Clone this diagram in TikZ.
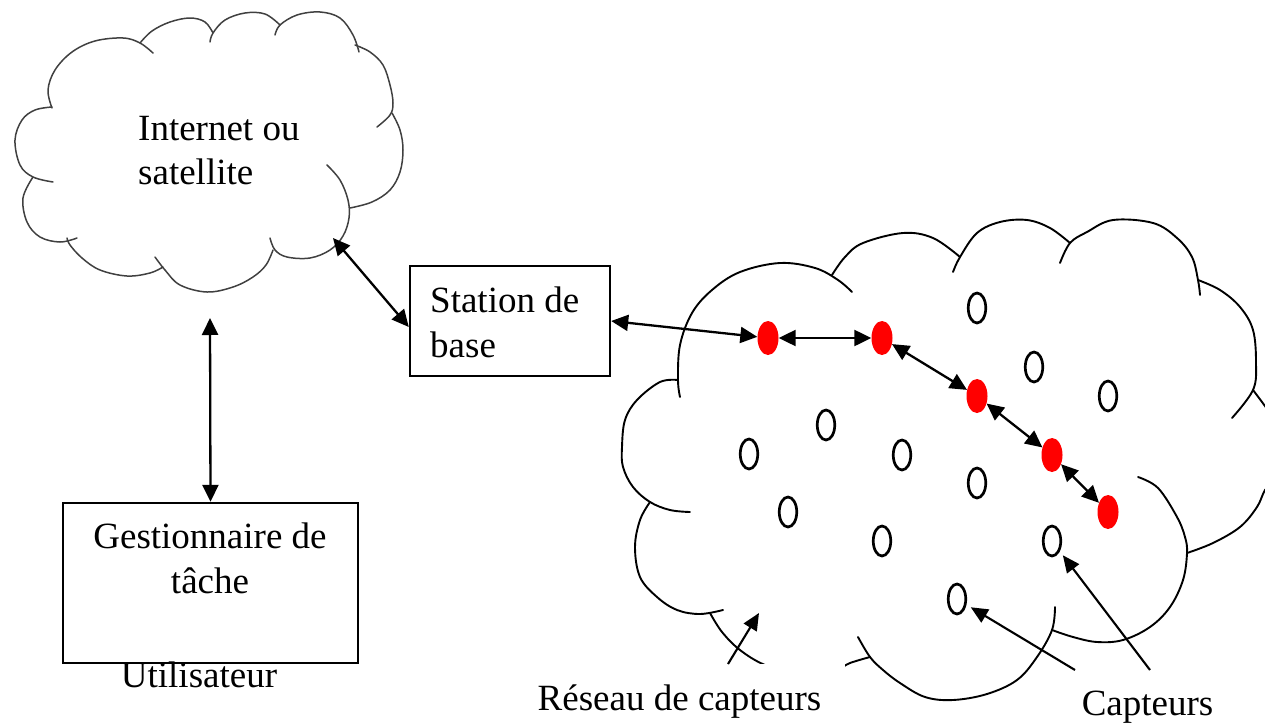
\documentclass[tikz,border=0pt]{standalone}
\usepackage{fontspec}
\setmainfont{Liberation Serif}
\usetikzlibrary{arrows.meta,shapes.geometric,calc}
\begin{document}
\begin{tikzpicture}[x=1pt,y=-1pt,
  txt/.style={font=\fontsize{37}{45}\selectfont, inner sep=0pt},
  boxnode/.style={draw, line width=2.4pt, inner sep=0pt},
  dbl/.style={line width=2.3pt, {Triangle[length=17pt,width=16pt]}-{Triangle[length=17pt,width=16pt]}},
  single/.style={line width=2.1pt, -{Triangle[length=17pt,width=15pt]}},
  redn/.style={ellipse, fill=red, inner sep=0pt, minimum width=21pt, minimum height=34pt},
  sens/.style={ellipse, draw, line width=2.7pt, inner sep=0pt, minimum width=17.5pt, minimum height=30pt},
  lobeL/.style={draw=black!75, line width=1.5pt, line join=round, line cap=round},
  lobeR/.style={draw=black, line width=1.9pt, line join=round, line cap=round},
  curve/.style={smooth, tension=0.6},
  lblbox/.style={txt, fill=white, anchor=base, text height=26pt, text depth=9pt},
]
\useasboundingbox (0,0) rectangle (1265,725);
\clip (0,0) rectangle (1265,725);

% ---- left cloud (Internet ou satellite)
\draw[lobeL] plot[curve] coordinates {(52,108) (48,90) (55,70) (72,52) (95,41) (123,38) (140,43) (153,53)};
\draw[lobeL] plot[curve] coordinates {(140,43) (152,31) (170,22) (190,18) (205,22) (213,33)};
\draw[lobeL] plot[curve] coordinates {(210,42) (213,33) (225,20) (245,13) (265,14) (280,25)};
\draw[lobeL] plot[curve] coordinates {(275,35) (280,25) (297,15) (320,12) (340,18) (353,35) (359,52)};
\draw[lobeL] plot[curve] coordinates {(355,45) (370,52) (383,65) (390,85) (393,103) (390,115) (377,127)};
\draw[lobeL] plot[curve] coordinates {(392,113) (400,130) (403,150) (400,172) (390,190) (372,202) (350,208)};
\draw[lobeL] plot[curve] coordinates {(327,165) (340,180) (348,200) (349,218) (343,236) (330,250) (310,258) (287,257) (275,250) (270,238)};
\draw[lobeL] plot[curve] coordinates {(273,250) (266,265) (253,277) (233,287) (207,292) (180,285) (165,270) (155,257)};
\draw[lobeL] plot[curve] coordinates {(163,267) (150,273) (127,276) (100,270) (82,258) (70,245) (67,238)};
\draw[lobeL] plot[curve] coordinates {(77,238) (60,242) (40,237) (27,222) (23,198) (33,177)};
\draw[lobeL] plot[curve] coordinates {(53,182) (33,177) (20,165) (15,140) (22,120) (35,110) (52,107)};

% ---- right cloud (sensor network)
\draw[lobeR] plot[curve] coordinates {(680,397) (678,380) (680,345) (692,313) (712,290) (740,272) (780,263) (815,268) (838,280) (852,292)};
\draw[lobeR] plot[curve] coordinates {(832,275) (845,257) (863,243) (903,233) (933,238) (960,257)};
\draw[lobeR] plot[curve] coordinates {(953,272) (960,257) (977,233) (1000,222) (1027,220) (1050,228) (1070,243)};
\draw[lobeR] plot[curve] coordinates {(1060,263) (1070,243) (1087,232) (1113,220) (1153,223) (1177,238) (1192,257) (1198,280) (1200,295)};
\draw[lobeR] plot[curve] coordinates {(1198,280) (1220,290) (1240,307) (1253,330) (1256,363) (1253,390) (1232,418)};
\draw[lobeR] plot[curve] coordinates {(1253,390) (1262,402) (1275,420)};
\draw[lobeR] plot[curve] coordinates {(1275,480) (1265,490) (1257,507) (1240,527) (1213,543) (1187,553)};
\draw[lobeR] plot[curve] coordinates {(1138,477) (1158,488) (1177,517) (1185,537) (1187,553) (1183,580) (1170,607) (1150,627) (1123,640) (1097,642) (1073,637) (1052,630)};
\draw[lobeR] plot[curve] coordinates {(1055,607) (1052,630) (1037,657) (1017,680) (987,694) (953,700) (925,697) (900,683) (883,670) (870,657) (858,637)};
\draw[lobeR] plot[curve] coordinates {(710,613) (722,632) (740,650) (765,665) (800,675) (835,670) (850,663) (870,657)};
\draw[lobeR] plot[curve] coordinates {(650,502) (640,520) (635,547) (640,577) (657,597) (677,610) (700,614) (723,610)};
\draw[lobeR] plot[curve] coordinates {(678,380) (660,382) (637,400) (625,420) (622,447) (623,467) (633,487) (650,502) (670,510) (690,512)};

% ---- texts and boxes
\node[txt, anchor=base west] (inet1) at (138,140) {Internet ou};
\node[txt, anchor=base west] (inet2) at (138,184) {satellite};

\node[boxnode, minimum width=200pt, minimum height=110pt] (st) at (510,321) {};
\node[txt, anchor=base west] (st1) at (430,312) {Station de};
\node[txt, anchor=base west] (st2) at (430,357) {base};

\node[boxnode, minimum width=295pt, minimum height=160pt] (gest) at (210.5,583) {};
\node[txt, anchor=base] (g1) at (210,548) {Gestionnaire de};
\node[txt, anchor=base] (g2) at (210,593) {tâche};
\node[txt, anchor=base] (user) at (199,687) {Utilisateur};

% ---- sensors
\node[sens] (s1) at (977,308) {};
\node[sens] (s2) at (1034,367) {};
\node[sens] (s3) at (1108,396) {};
\node[sens] (s4) at (826,425) {};
\node[sens] (s5) at (749,454) {};
\node[sens] (s6) at (902,455) {};
\node[sens] (s7) at (977,483) {};
\node[sens] (s8) at (788,512) {};
\node[sens] (s9) at (882,541) {};
\node[sens] (s10) at (1052,541) {};
\node[sens] (s11) at (957,599) {};

\node[redn] (r1) at (768,338) {};
\node[redn] (r2) at (882,338) {};
\node[redn] (r3) at (977,396) {};
\node[redn] (r4) at (1052,455) {};
\node[redn] (r5) at (1108,512) {};

% ---- connectors
\coordinate (inetpt) at (333,238);
\coordinate (inetbot) at (210,318);
\draw[dbl] (inetpt) -- ([yshift=-6pt]st.west);
\draw[dbl] (inetbot) -- (gest.north);
\draw[dbl] (st.east) -- (r1);
\draw[dbl] (r1) -- (r2);
\draw[dbl] (r2) -- (r3);
\draw[dbl] (r3) -- (r4);
\draw[dbl] (r4) -- (r5);

% ---- labels with pointers
\node[lblbox, inner xsep=24pt, inner ysep=20pt] (lres) at (679.5,710) {Réseau de capteurs};
\node[lblbox, inner xsep=15pt, inner ysep=19pt] (lcap) at (1147.5,715) {Capteurs};
\coordinate (rs) at (728,664);
\coordinate (rtip) at (759,613);
\coordinate (cp1) at (1075,670);
\coordinate (cp2) at (1150,670);
\draw[single] (rs) -- (rtip);
\draw[single, shorten >=5pt] (cp1) -- (s11);
\draw[single, shorten >=5pt] (cp2) -- (s10);
\end{tikzpicture}
\end{document}
